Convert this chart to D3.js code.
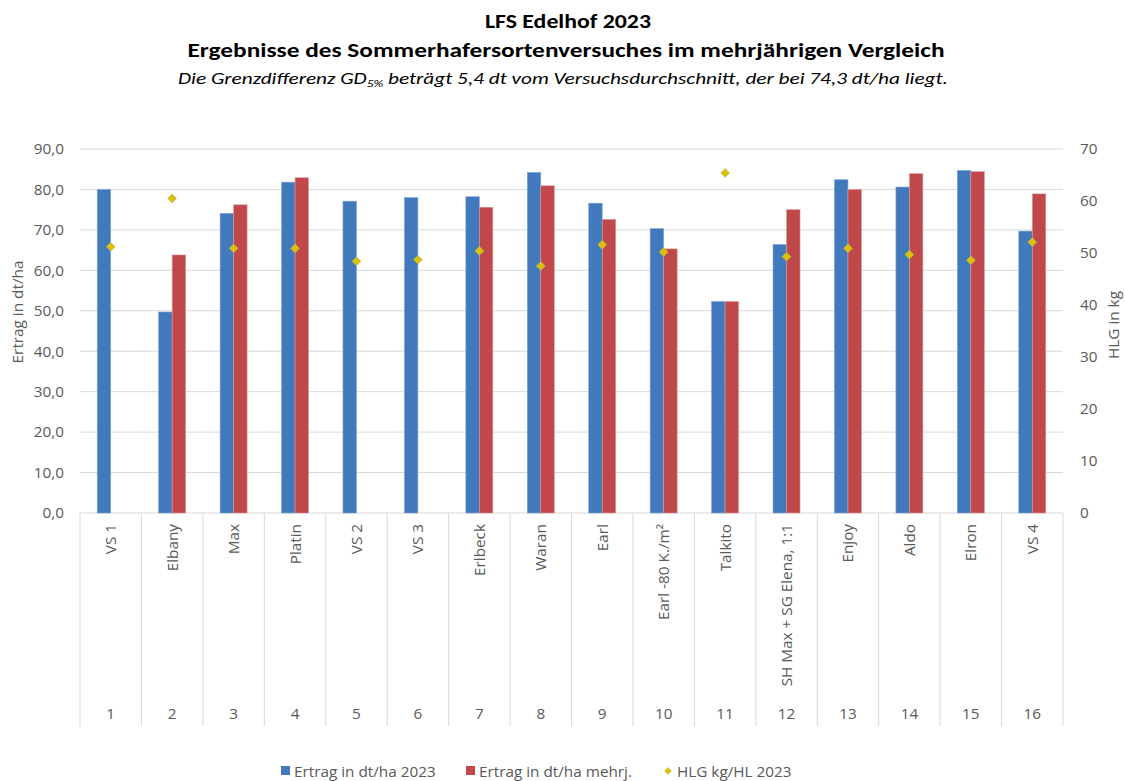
<!DOCTYPE html>
<html><head><meta charset="utf-8">
<script src="https://cdn.jsdelivr.net/npm/d3@7"></script>
<style>body{margin:0;background:#fff}svg{display:block}</style>
</head><body>
<svg id="c" width="1125" height="781"></svg>
<script>
const numbers = ["1","2","3","4","5","6","7","8","9","10","11","12","13","14","15","16"];
const varieties = ["VS 1","Elbany","Max","Platin","VS 2","VS 3","Erlbeck","Waran","Earl","Earl -80 K./m²","Talkito","SH Max + SG Elena, 1:1","Enjoy","Aldo","Elron","VS 4"];
const ertrag2023 = [80.0,49.7,74.1,81.8,77.1,78.0,78.2,84.2,76.6,70.3,52.3,66.4,82.4,80.6,84.7,69.7];
const ertragMehrj = [null,63.8,76.2,82.9,null,null,75.6,80.9,72.6,65.3,52.3,75.0,80.0,83.9,84.4,78.9];
const hlg2023 = [51.2,60.5,50.9,50.9,48.4,48.7,50.4,47.5,51.6,50.2,65.4,49.3,50.9,49.7,48.6,52.1];
const leftTicks = [0,10,20,30,40,50,60,70,80,90];
const rightTicks = [0,10,20,30,40,50,60,70];
const seriesNames = ["Ertrag in dt/ha 2023","Ertrag in dt/ha mehrj.","HLG kg/HL 2023"];

const svg = d3.select("#c");
const L = 80, R = 1063, T = 149, B = 513;
const FONT = "'Open Sans','Segoe UI','Noto Sans',sans-serif";
const FS = 15.3;
const TXT = "#595959";
const cBlue = "#4279BC", cRed = "#C0474A", cGold = "#E2BE00";

const x = d3.scaleBand().domain(numbers).range([L, R]).padding(0);
const yL = d3.scaleLinear().domain([0, 90]).range([B, T]);
const yR = d3.scaleLinear().domain([0, 70]).range([B, T]);
const bw = 13.5;
const groupOff = (x.bandwidth() - 2*bw)/2;

// titles
const tf = "Carlito,'Liberation Sans Narrow','Liberation Sans',sans-serif";
svg.append("text").attr("x", 568).attr("y", 28).attr("text-anchor","middle")
  .attr("font-family", tf).attr("font-weight","bold").attr("font-size", 21)
  .attr("textLength", 166).attr("lengthAdjust","spacingAndGlyphs").attr("fill","#000")
  .text("LFS Edelhof 2023");
svg.append("text").attr("x", 566).attr("y", 57).attr("text-anchor","middle")
  .attr("font-family", tf).attr("font-weight","bold").attr("font-size", 21)
  .attr("textLength", 757).attr("lengthAdjust","spacingAndGlyphs").attr("fill","#000")
  .text("Ergebnisse des Sommerhafersortenversuches im mehrjährigen Vergleich");
const st = svg.append("text").attr("x", 178).attr("y", 84)
  .attr("font-family", tf).attr("font-style","italic").attr("font-size", 16.5).attr("fill","#000")
  .attr("textLength", 770).attr("lengthAdjust","spacingAndGlyphs");
st.append("tspan").text("Die Grenzdifferenz GD");
st.append("tspan").attr("font-size", 10.5).attr("dy", 3).text("5%");
st.append("tspan").attr("dy", -3).text(" beträgt  5,4 dt vom Versuchsdurchschnitt, der bei  74,3 dt/ha liegt.");

// grid
svg.append("g").selectAll("line").data(leftTicks).join("line")
  .attr("x1", L).attr("x2", R).attr("y1", d => yL(d)).attr("y2", d => yL(d))
  .attr("stroke", "#d9d9d9").attr("stroke-width", 1);

// left axis labels
svg.append("g").selectAll("text").data(leftTicks).join("text")
  .attr("x", 64).attr("y", d => yL(d)).attr("dy","0.35em").attr("text-anchor","end")
  .attr("font-family", FONT).attr("font-size", FS).attr("fill", TXT)
  .text(d => d3.format(".1f")(d).replace(".", ","));
// right axis labels
svg.append("g").selectAll("text").data(rightTicks).join("text")
  .attr("x", 1080).attr("y", d => yR(d)).attr("dy","0.35em").attr("text-anchor","start")
  .attr("font-family", FONT).attr("font-size", FS).attr("fill", TXT)
  .text(d => d);
svg.append("text").attr("transform", "translate(23,312) rotate(-90)").attr("text-anchor","middle")
  .attr("font-family", FONT).attr("font-size", FS).attr("fill", TXT).text("Ertrag in dt/ha");
svg.append("text").attr("transform", "translate(1119,325) rotate(-90)").attr("text-anchor","middle")
  .attr("font-family", FONT).attr("font-size", FS).attr("fill", TXT).text("HLG in kg");

// category dividers
const bounds = numbers.map(d => x(d)).concat([R]);
svg.append("g").selectAll("line").data(bounds).join("line")
  .attr("x1", d => d).attr("x2", d => d).attr("y1", B).attr("y2", 726)
  .attr("stroke", "#d9d9d9").attr("stroke-width", 1);

// bars
const g = svg.append("g");
g.selectAll("rect.b").data(ertrag2023).join("rect").attr("class","b")
  .attr("x", (d,i) => x(numbers[i]) + groupOff).attr("width", bw)
  .attr("y", d => yL(d)).attr("height", d => B - yL(d))
  .attr("fill", cBlue).attr("stroke", "#7FA6D6").attr("stroke-width", 0.6);
g.selectAll("rect.r").data(ertragMehrj.map((v,i)=>({v,i})).filter(d => d.v != null)).join("rect").attr("class","r")
  .attr("x", d => x(numbers[d.i]) + groupOff + bw).attr("width", bw)
  .attr("y", d => yL(d.v)).attr("height", d => B - yL(d.v))
  .attr("fill", cRed).attr("stroke", "#E09A98").attr("stroke-width", 0.6);

// markers
const dia = d3.symbol().type(d3.symbolDiamond2).size(48);
g.selectAll("path.m").data(hlg2023).join("path").attr("class","m")
  .attr("d", dia)
  .attr("transform", (d,i) => `translate(${x(numbers[i]) + x.bandwidth()/2},${yR(d)})`)
  .attr("fill", cGold).attr("stroke", "#A9C25A").attr("stroke-width", 0.8);

// category labels
const cx = i => x(numbers[i]) + x.bandwidth()/2;
svg.append("g").selectAll("text").data(varieties).join("text")
  .attr("transform", (d,i) => `translate(${cx(i)+5.5},524) rotate(-90)`)
  .attr("text-anchor","end")
  .attr("font-family", FONT).attr("font-size", FS).attr("fill", TXT)
  .text(d => d);
svg.append("g").selectAll("text").data(numbers).join("text")
  .attr("x", (d,i) => cx(i)).attr("y", 719).attr("text-anchor","middle")
  .attr("font-family", FONT).attr("font-size", FS).attr("fill", TXT)
  .text(d => d);

// legend
const lg = svg.append("g").attr("font-family", FONT).attr("font-size", FS).attr("fill", TXT);
const lx = [281, 466, 664];
lg.append("rect").attr("x", lx[0]).attr("y", 766).attr("width", 9).attr("height", 9).attr("fill", cBlue);
lg.append("text").attr("x", lx[0]+13).attr("y", 776.5).text(seriesNames[0]);
lg.append("rect").attr("x", lx[1]).attr("y", 766).attr("width", 9).attr("height", 9).attr("fill", cRed);
lg.append("text").attr("x", lx[1]+13).attr("y", 776.5).text(seriesNames[1]);
lg.append("path").attr("d", d3.symbol().type(d3.symbolDiamond2).size(30)).attr("transform", `translate(${lx[2]+4},771)`)
  .attr("fill", cGold).attr("stroke", "#A9C25A").attr("stroke-width", 0.6);
lg.append("text").attr("x", lx[2]+13).attr("y", 776.5).text(seriesNames[2]);
</script>
</body></html>
